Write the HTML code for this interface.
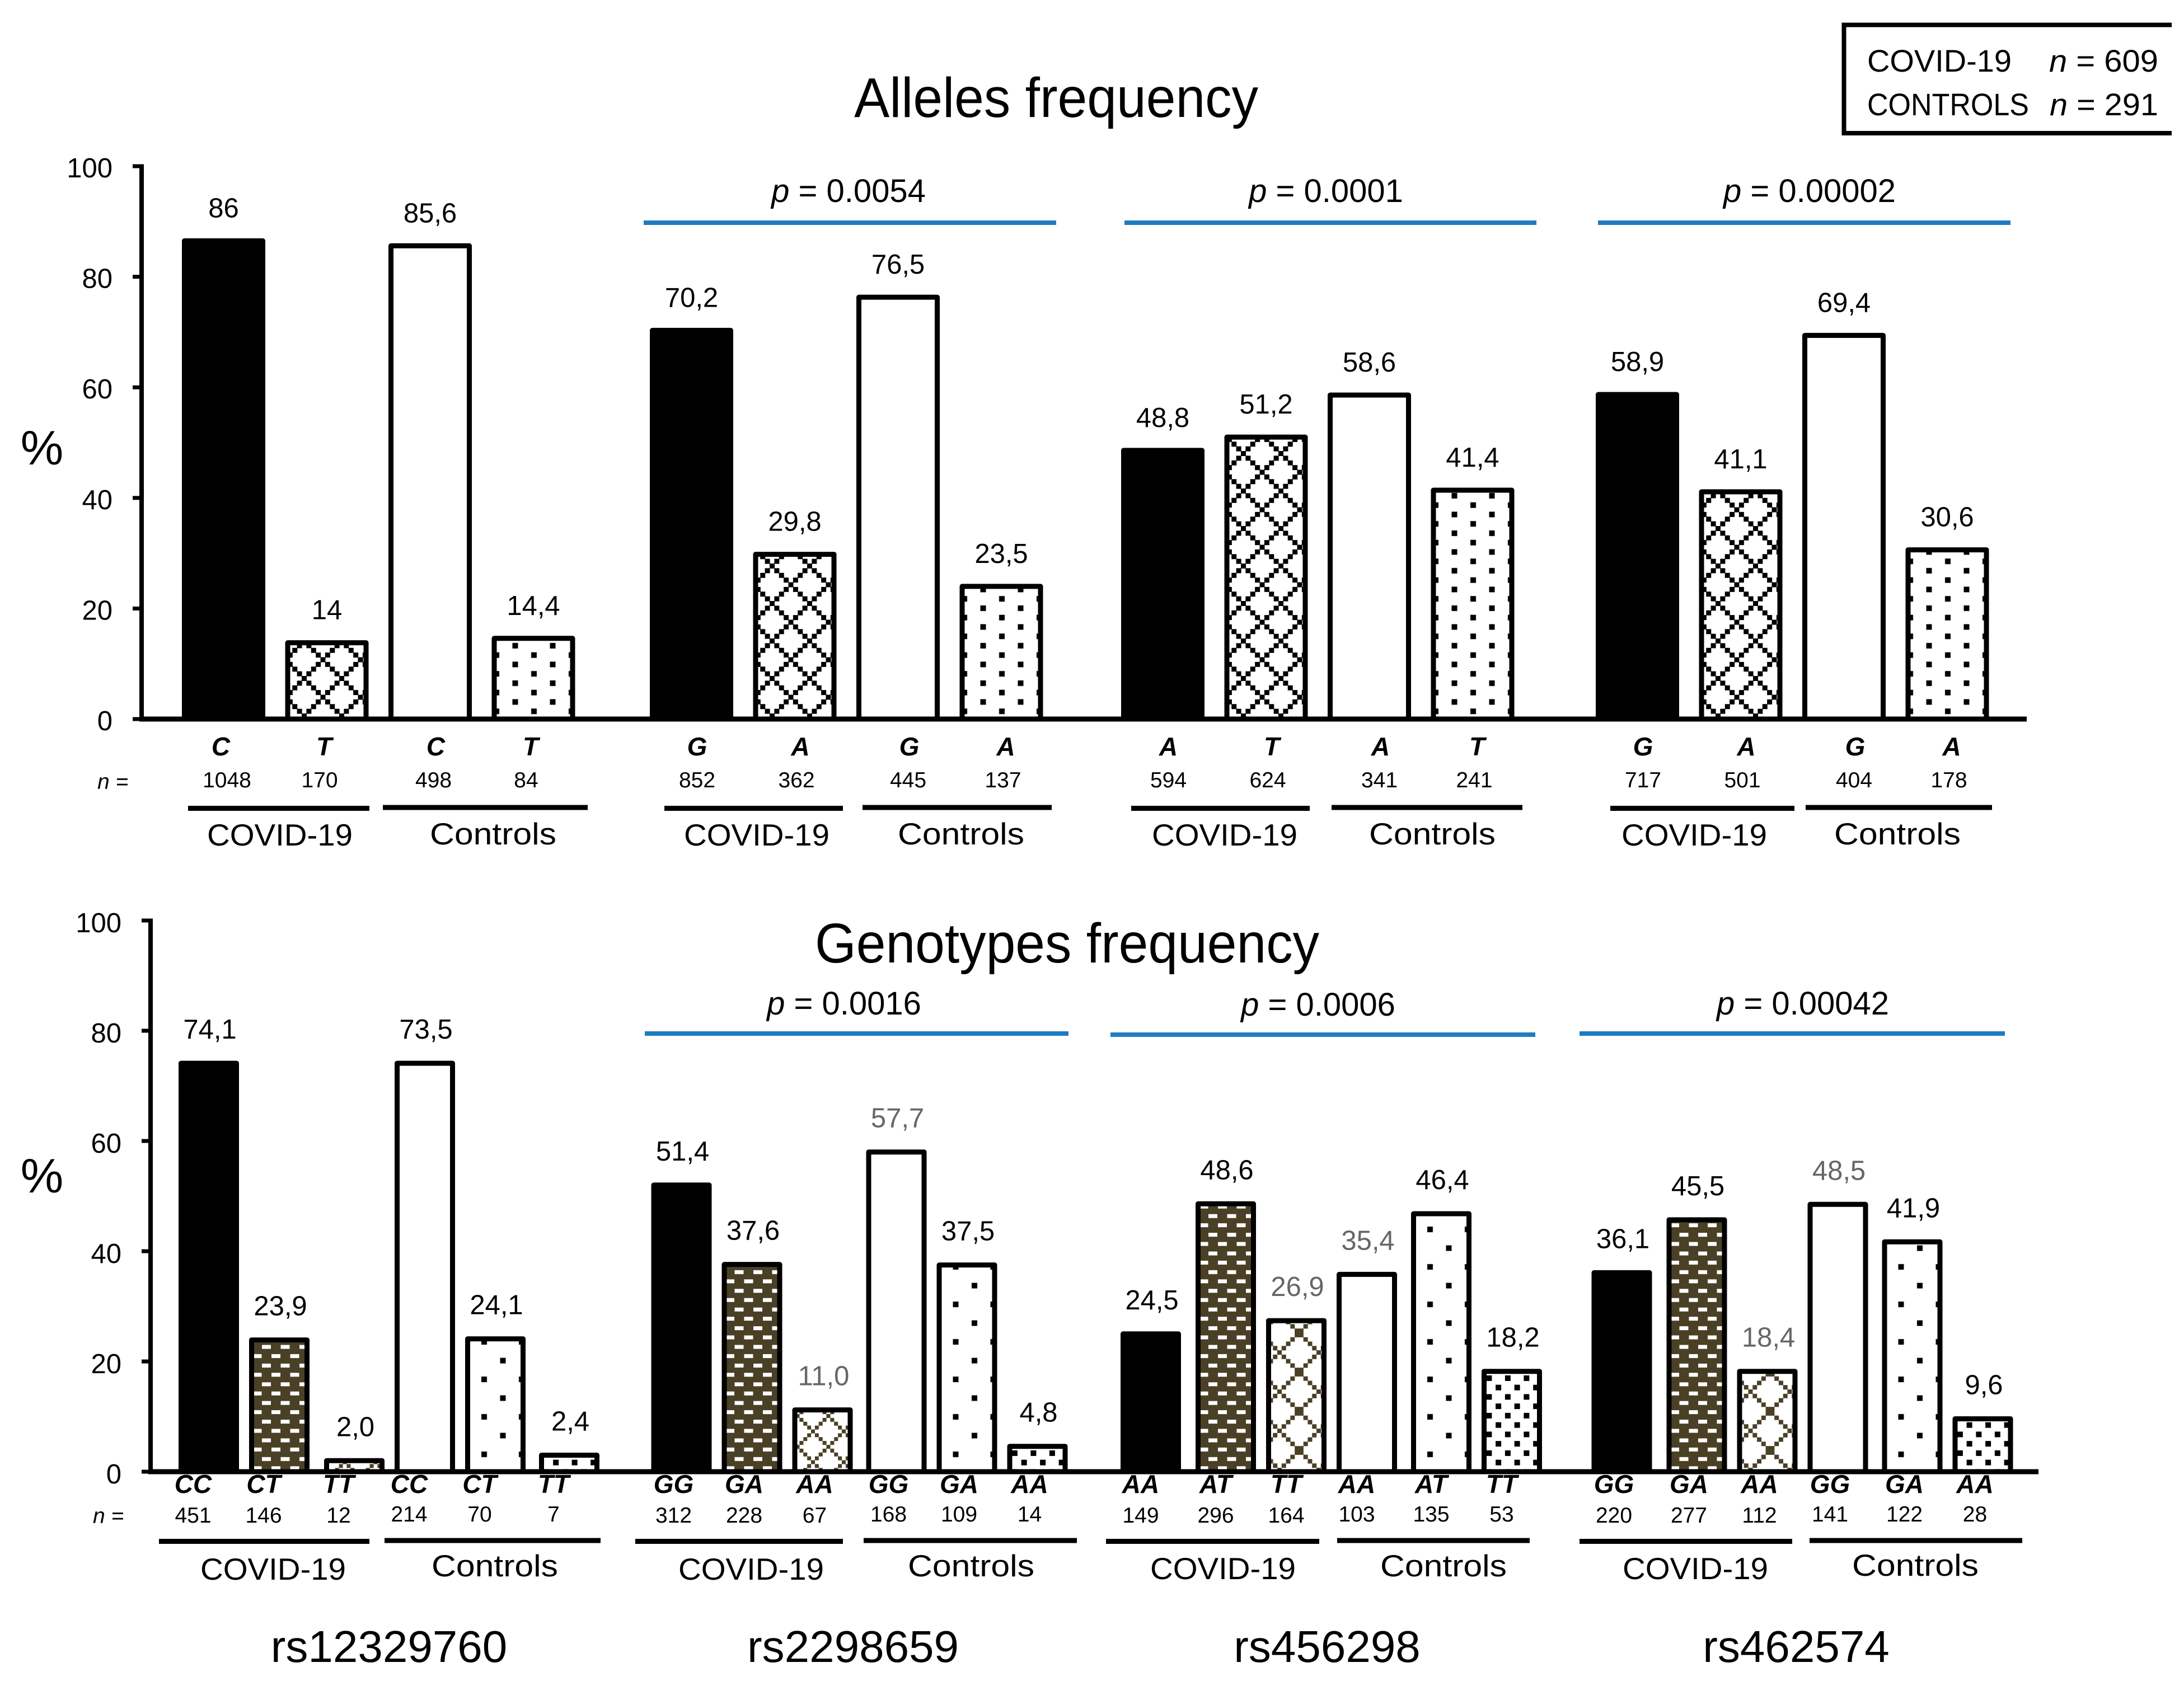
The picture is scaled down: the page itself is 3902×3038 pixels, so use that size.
<!DOCTYPE html>
<html lang="en">
<head>
<meta charset="utf-8">
<title>Alleles and genotypes frequency</title>
<style>
html,body{margin:0;padding:0;background:#fff;}
svg{display:block;}
text{font-family:"Liberation Sans",sans-serif;fill:#000;}
</style>
</head>
<body>
<svg id="figure" xmlns="http://www.w3.org/2000/svg" width="3902" height="3038" viewBox="0 0 3902 3038">
  <rect x="0" y="0" width="3902" height="3038" fill="#fff"/>
  <defs id="defs"></defs>
  <text x="1526" y="209" font-size="100" textLength="722" lengthAdjust="spacingAndGlyphs">Alleles frequency</text>
  <text x="1456" y="1720" font-size="100" textLength="901" lengthAdjust="spacingAndGlyphs">Genotypes frequency</text>
  <g>
    <path d="M3880 44.500H3294.500V238H3880" fill="none" stroke="#000" stroke-width="8"/>
    <text x="3336" y="128" font-size="56" textLength="258" lengthAdjust="spacingAndGlyphs">COVID-19</text>
    <text x="3661" y="128" font-size="56" textLength="195" lengthAdjust="spacingAndGlyphs"><tspan font-style="italic">n</tspan> = 609</text>
    <text x="3336" y="206" font-size="56" textLength="289" lengthAdjust="spacingAndGlyphs">CONTROLS</text>
    <text x="3662" y="206" font-size="56" textLength="194" lengthAdjust="spacingAndGlyphs"><tspan font-style="italic">n</tspan> = 291</text>
  </g>
  <g id="alleles-chart"></g>
  <g id="genotypes-chart"></g>
  <g id="snp-names"></g>
</svg>
<script>
// ---- data ----
const snpNames = ['rs12329760', 'rs2298659', 'rs456298', 'rs462574'];
const yTicks = [0, 20, 40, 60, 80, 100];

const alleleCategories = ['C','T','C','T', 'G','A','G','A', 'A','T','A','T', 'G','A','G','A'];
const alleleValues = [86.5, 13.8, 85.6, 14.6, 70.3, 29.8, 76.3, 24, 48.6, 51, 58.6, 41.4, 58.7, 41.1, 69.4, 30.6];
const alleleValueLabels = ['86','14','85,6','14,4','70,2','29,8','76,5','23,5','48,8','51,2','58,6','41,4','58,9','41,1','69,4','30,6'];
const alleleCounts = [1048, 170, 498, 84, 852, 362, 445, 137, 594, 624, 341, 241, 717, 501, 404, 178];
const allelePValues = ['', '0.0054', '0.0001', '0.00002'];

const genotypeCategories = ['CC','CT','TT','CC','CT','TT', 'GG','GA','AA','GG','GA','AA', 'AA','AT','TT','AA','AT','TT', 'GG','GA','AA','GG','GA','AA'];
const genotypeValues = [74.1, 23.9, 2.0, 74.1, 24.1, 3, 52, 37.6, 11.2, 58, 37.5, 4.6, 25, 48.6, 27.4, 35.8, 46.8, 18.2, 36.1, 45.7, 18.2, 48.5, 41.7, 9.6];
const genotypeValueLabels = ['74,1','23,9','2,0','73,5','24,1','2,4','51,4','37,6','11,0','57,7','37,5','4,8','24,5','48,6','26,9','35,4','46,4','18,2','36,1','45,5','18,4','48,5','41,9','9,6'];
const genotypeGreyLabels = ['11,0','57,7','26,9','35,4','18,4','48,5'];
const genotypeCounts = [451, 146, 12, 214, 70, 7, 312, 228, 67, 168, 109, 14, 149, 296, 164, 103, 135, 53, 220, 277, 112, 141, 122, 28];
const genotypePValues = ['', '0.0016', '0.0006', '0.00042'];

// ---- axis functions ----
function yAllele(v) { return 1285 - 9.88 * v; }
function yGenotype(v) { return 2630 - 9.85 * v; }
function xAllele(index) {
  const group = Math.floor(index / 4);
  return 325 + 842 * group - (group % 3 ? 6 : 0) + 184.5 * (index % 4);
}
function xGenotype(index) {
  const group = Math.floor(index / 6);
  const pos = index % 6;
  let nudge = 0;
  if (group === 0) nudge = pos >= 5 ? 14 : (pos >= 2 ? 8 : 0);
  if (group === 1) nudge = pos >= 3 ? 9 : 3;
  if (group >= 2) nudge = pos >= 4 ? 15 : (pos >= 1 ? 8 : 0);
  return 319 + 841.5 * group + 126 * pos + nudge;
}

// ---- helpers ----
const NS = 'http://www.w3.org/2000/svg';
const defs = document.getElementById('defs');
const BLUE = '#1e7cc0';
const OLIVE = '#4a4026';
let patternId = 0;

function svgEl(parent, tag, attrs) {
  const el = document.createElementNS(NS, tag);
  for (const k in attrs) el.setAttribute(k, attrs[k]);
  parent.appendChild(el);
  return el;
}
function textEl(parent, x, y, str, size, anchor) {
  const el = svgEl(parent, 'text', { x: x, y: y, 'font-size': size, 'text-anchor': anchor || 'middle' });
  el.textContent = str;
  return el;
}
function newPattern(w, h, originX, originY) {
  patternId += 1;
  const p = svgEl(defs, 'pattern', {
    id: 'fill-' + patternId, patternUnits: 'userSpaceOnUse', width: w, height: h,
    patternTransform: 'translate(' + originX + ' ' + originY + ')'
  });
  return p;
}
// lattice drawn as a staircase of small squares, like the bitmap hatch of the original
function crossFill(originX, originY, size, color, sq) {
  const p = newPattern(size, size, originX, originY);
  svgEl(p, 'rect', { x: 0, y: 0, width: size, height: size, fill: '#fff' });
  const n = Math.round(size / (sq * 0.93));
  const step = size / n;
  for (let k = 0; k <= n; k++) {
    const a = k * step;
    svgEl(p, 'rect', { x: a - sq / 2, y: a - sq / 2, width: sq, height: sq, fill: color });
    svgEl(p, 'rect', { x: size - a - sq / 2, y: a - sq / 2, width: sq, height: sq, fill: color });
  }
  return 'url(#' + p.id + ')';
}
function dotsFill(originX, originY, w, h) {
  const p = newPattern(w, h, originX, originY);
  svgEl(p, 'rect', { x: 0, y: 0, width: w, height: h, fill: '#fff' });
  svgEl(p, 'rect', { x: w / 4 - 5, y: h / 4 - 5, width: 10, height: 10, fill: '#000' });
  svgEl(p, 'rect', { x: 3 * w / 4 - 5, y: 3 * h / 4 - 5, width: 10, height: 10, fill: '#000' });
  return 'url(#' + p.id + ')';
}
function brickFill(originX, originY) {
  const p = newPattern(33.5, 33.4, originX, originY);
  svgEl(p, 'rect', { x: 0, y: 0, width: 33.5, height: 33.4, fill: OLIVE });
  svgEl(p, 'rect', { x: 6.5, y: 4.5, width: 16, height: 7, fill: '#fff' });
  svgEl(p, 'rect', { x: 23, y: 21.5, width: 16, height: 7, fill: '#fff' });
  svgEl(p, 'rect', { x: -10.5, y: 21.5, width: 16, height: 7, fill: '#fff' });
  return 'url(#' + p.id + ')';
}
function pText(parent, x, y, value) {
  const el = svgEl(parent, 'text', { x: x, y: y, 'font-size': 58, 'text-anchor': 'middle' });
  const it = svgEl(el, 'tspan', { 'font-style': 'italic' });
  it.textContent = 'p';
  el.appendChild(document.createTextNode(' = ' + value));
  return el;
}

// ---- shared drawing ----
function drawAxes(g, yFn, axisX, endX, prefix, labelDy) {
  yTicks.forEach(function (t) {
    const tick = svgEl(g, 'rect', { x: axisX - 16, y: yFn(t) - 3.5, width: 16, height: 7, fill: '#000' });
    
    
    const label = textEl(g, axisX - 52, yFn(t) + labelDy, String(t), 49, 'end');
    
    
  });
  const yAxis = svgEl(g, 'rect', { x: axisX - 4, y: yFn(100) - 3.5, width: 8, height: yFn(0) - yFn(100) + 8, fill: '#000' });
  
  
  const xAxis = svgEl(g, 'rect', { x: axisX - 4, y: yFn(0) - 4.5, width: endX - axisX + 4, height: 9, fill: '#000' });
  
  
}
function drawBar(g, x, w, top, base, fill, name) {
  const r = svgEl(g, 'rect', {
    x: x + 4.5, y: top, width: w - 9, height: Math.max(base - top, 0),
    fill: fill, stroke: '#000', 'stroke-width': 9, 'stroke-linejoin': 'round'
  });
  
  
  return r;
}
function drawGroupCaption(g, prefix, snp, covidLine, controlsLine, covidCx, controlsCx, lineY, covidY, controlsY) {
  const ul1 = svgEl(g, 'rect', { x: covidLine[0], y: lineY, width: covidLine[1] - covidLine[0], height: 9, fill: '#000' });
  
  
  const ul2 = svgEl(g, 'rect', { x: controlsLine[0], y: lineY - 1.5, width: controlsLine[1] - controlsLine[0], height: 9, fill: '#000' });
  
  
  const t1 = textEl(g, covidCx, covidY, 'COVID-19', 55);
  t1.setAttribute('textLength', 260);
  t1.setAttribute('lengthAdjust', 'spacingAndGlyphs');
  
  
  const t2 = textEl(g, controlsCx, controlsY, 'Controls', 55);
  t2.setAttribute('textLength', 226);
  t2.setAttribute('lengthAdjust', 'spacingAndGlyphs');
  
  
}
function drawPBracket(g, prefix, snp, value, x1, x2, lineY, labelCx, labelY) {
  const line = svgEl(g, 'rect', { x: x1, y: lineY, width: x2 - x1, height: 8, fill: BLUE });
  
  
  const p = pText(g, labelCx, labelY, value);
  
  
}

// ---- alleles chart ----
(function () {
  const g = document.getElementById('alleles-chart');
  const W = 149;
  const base = yAllele(0);
  alleleValues.forEach(function (v, i) {
    const pos = i % 4;
    const group = Math.floor(i / 4);
    const x = xAllele(i);
    const cx = x + W / 2;
    let fill = pos === 0 ? '#000' : '#fff';
    if (pos === 1) fill = crossFill(x + 0.5, base - 39, 67, '#000', 9);
    if (pos === 3) fill = dotsFill(x - 8.25, base - 22.2, 67, 33.5);
    const name = alleleCategories[i] + '-' + snpNames[group] + '-' + (pos < 2 ? 'covid' : 'controls');
    drawBar(g, x, W, yAllele(v), base, fill, 'allele-bar-' + name);

    const val = textEl(g, cx, yAllele(v) - 42, alleleValueLabels[i], 49);
    
    

    const catShift = group === 0 ? (pos === 2 ? 10 : -5) : (pos === 2 ? 20 : (pos === 3 ? 8 : 10));
    const cat = textEl(g, cx + catShift, 1350, alleleCategories[i], 46);
    cat.setAttribute('font-weight', 'bold');
    cat.setAttribute('font-style', 'italic');
    
    

    let cntShift = pos === 2 ? 18 : (pos === 0 ? 10 : 3);
    if (group === 0) cntShift = pos % 2 ? -13 : 6;
    const cnt = textEl(g, cx + cntShift, 1407, String(alleleCounts[i]), 39);
    
    
  });
  drawAxes(g, yAllele, 253, 3621, 'alleles', 20);

  const pct = textEl(g, 75, 830, '%', 86);
  
  

  const nLabel = textEl(g, 174, 1410, 'n =', 39, 'start');
  nLabel.setAttribute('font-style', 'italic');
  
  

  drawGroupCaption(g, 'alleles', snpNames[0], [336, 660], [684, 1050], 500, 881, 1440, 1511, 1509);
  drawGroupCaption(g, 'alleles', snpNames[1], [1187, 1506], [1541, 1879], 1352, 1717, 1440, 1511, 1509);
  drawGroupCaption(g, 'alleles', snpNames[2], [2021, 2340], [2379, 2720], 2188, 2559, 1440, 1511, 1509);
  drawGroupCaption(g, 'alleles', snpNames[3], [2877, 3206], [3226, 3559], 3027, 3390, 1440, 1511, 1509);

  drawPBracket(g, 'alleles', snpNames[1], allelePValues[1], 1150, 1887, 394, 1516, 361);
  drawPBracket(g, 'alleles', snpNames[2], allelePValues[2], 2009, 2745, 394, 2369, 361);
  drawPBracket(g, 'alleles', snpNames[3], allelePValues[3], 2855, 3592, 394, 3233, 361);
})();

// ---- genotypes chart ----
(function () {
  const g = document.getElementById('genotypes-chart');
  const W = 108;
  const base = yGenotype(0);
  genotypeValues.forEach(function (v, i) {
    const pos = i % 6;
    const group = Math.floor(i / 6);
    const x = xGenotype(i);
    const cx = x + W / 2;
    let fill = pos === 0 ? '#000' : '#fff';
    if (pos === 1) fill = brickFill(x, base - 47.6);
    if (pos === 2) fill = group < 2 ? crossFill(x + 9.5, base - 99.5, 55, OLIVE, 7) : crossFill(x + 24, base - 143, 70, OLIVE, 8);
    if (pos === 4) fill = dotsFill(x + 17.25, base - 47.75, 67, 67);
    if (pos === 5) fill = dotsFill(x + 5, base - 8, 33.5, 33.5);
    const name = genotypeCategories[i] + '-' + snpNames[group] + '-' + (pos < 3 ? 'covid' : 'controls');
    drawBar(g, x, W, yGenotype(v), base, fill, 'genotype-bar-' + name);

    const val = textEl(g, cx + 2, yGenotype(v) - 44, genotypeValueLabels[i], 49);
    if (genotypeGreyLabels.indexOf(genotypeValueLabels[i]) >= 0) val.setAttribute('style', 'fill:#666');
    
    

    const shift = group === 0 ? -28 : (group === 2 ? -18 : -14);
    const cat = textEl(g, cx + shift, 2668, genotypeCategories[i], 46);
    cat.setAttribute('font-weight', 'bold');
    cat.setAttribute('font-style', 'italic');
    
    

    const cnt = textEl(g, cx + shift, pos < 3 ? 2721 : 2719, String(genotypeCounts[i]), 39);
    
    
  });
  drawAxes(g, yGenotype, 269, 3642, 'genotypes', 21);

  const pct = textEl(g, 75, 2131, '%', 86);
  
  

  const nLabel = textEl(g, 166, 2722, 'n =', 39, 'start');
  nLabel.setAttribute('font-style', 'italic');
  
  

  drawGroupCaption(g, 'genotypes', snpNames[0], [284, 660], [687, 1073], 488, 884, 2750, 2823, 2817);
  drawGroupCaption(g, 'genotypes', snpNames[1], [1135, 1506], [1543, 1924], 1342, 1735, 2750, 2823, 2817);
  drawGroupCaption(g, 'genotypes', snpNames[2], [1976, 2357], [2389, 2733], 2185, 2579, 2750, 2822, 2817);
  drawGroupCaption(g, 'genotypes', snpNames[3], [2822, 3202], [3233, 3613], 3029, 3422, 2750, 2822, 2816);

  drawPBracket(g, 'genotypes', snpNames[1], genotypePValues[1], 1152, 1909, 1843, 1508, 1813);
  drawPBracket(g, 'genotypes', snpNames[2], genotypePValues[2], 1984, 2743, 1845, 2355, 1815);
  drawPBracket(g, 'genotypes', snpNames[3], genotypePValues[3], 2822, 3582, 1843, 3221, 1813);
})();

// ---- SNP names under the charts ----
(function () {
  const g = document.getElementById('snp-names');
  snpNames.forEach(function (snp, s) {
    const t = textEl(g, 695 + 838 * s - (s === 1 ? 9 : 0), 2970, snp, 80);
    
    
  });
})();
</script>
</body>
</html>
